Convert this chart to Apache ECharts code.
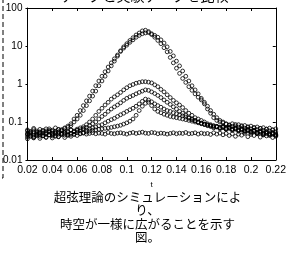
<!DOCTYPE html>
<html><head><meta charset="utf-8">
<script src="https://cdn.jsdelivr.net/npm/echarts@6/dist/echarts.min.js"></script>
<style>html,body{margin:0;padding:0;background:#fff}#c{width:289px;height:253px}</style>
</head><body><div id="c"></div>
<script>
const tValues = [0.02,0.0225,0.025,0.0275,0.03,0.0325,0.035,0.0375,0.04,0.0425,0.045,0.0475,0.05,0.0525,0.055,0.0575,0.06,0.0625,0.065,0.0675,0.07,0.0725,0.075,0.0775,0.08,0.0825,0.085,0.0875,0.09,0.0925,0.095,0.0975,0.1,0.1025,0.105,0.1075,0.11,0.1125,0.115,0.1175,0.12,0.1225,0.125,0.1275,0.13,0.1325,0.135,0.1375,0.14,0.1425,0.145,0.1475,0.15,0.1525,0.155,0.1575,0.16,0.1625,0.165,0.1675,0.17,0.1725,0.175,0.1775,0.18,0.1825,0.185,0.1875,0.19,0.1925,0.195,0.1975,0.2,0.2025,0.205,0.2075,0.21,0.2125,0.215,0.2175,0.22];

const peak1 = [0.062,0.055,0.068,0.058,0.064,0.052,0.066,0.06,0.057,0.07,0.063,0.059,0.067,0.072,
  0.08,0.1,0.12,0.15,0.2,0.27,0.36,0.48,0.65,0.9,1.2,1.6,2.2,3.0,4.0,5.4,7.5,9.5,11.5,14,16.5,19.5,22,25,26,24,20,17,14,11.5,9,7,5,3.6,2.6,1.9,1.4,1.1,0.85,0.68,0.55,0.45,0.38,0.3,0.22,0.17,0.13,0.11,0.1,0.095,
  0.088,0.082,0.09,0.079,0.085,0.076,0.081,0.072,0.078,0.07,0.074,0.068,0.071,0.065,0.069,0.062,0.066];
const peak2 = [0.048,0.056,0.045,0.052,0.05,0.058,0.047,0.054,0.061,0.049,0.055,0.063,0.07,
  0.078,0.09,0.12,0.15,0.2,0.27,0.36,0.48,0.65,0.9,1.2,1.6,2.1,2.8,3.6,4.6,5.8,7.2,8.8,10.5,12.5,14.5,17,19,21,22,22.5,21,19,17,14.5,12,9.5,7.2,5.5,4,3,2.2,1.6,1.2,0.9,0.7,0.55,0.42,0.33,0.26,0.2,0.16,0.13,0.11,0.1,0.09,
  0.084,0.077,0.086,0.073,0.08,0.069,0.075,0.066,0.072,0.063,0.068,0.06,0.065,0.058,0.062,0.055];
const seriesA = [0.045,0.052,0.041,0.049,0.055,0.044,0.05,0.057,0.046,0.053,0.048,0.059,0.051,0.056,0.062,0.058,0.065,0.07,0.075,0.085,0.1,
  0.12,0.15,0.19,0.23,0.28,0.33,0.4,0.46,0.52,0.6,0.7,0.8,0.9,0.97,1.05,1.1,1.15,1.15,1.12,1.07,0.95,0.85,0.72,0.62,0.52,0.44,0.37,0.32,0.28,0.24,0.2,0.17,0.15,0.13,0.12,0.11,0.1,0.09,0.085,0.08,
  0.076,0.072,0.078,0.068,0.074,0.065,0.07,0.062,0.067,0.059,0.064,0.056,0.061,0.053,0.058,0.05,0.055,0.048,0.052,0.046];
const seriesB = [0.04,0.047,0.038,0.044,0.042,0.05,0.039,0.046,0.043,0.051,0.041,0.048,0.045,0.053,0.047,0.055,0.06,0.063,0.068,0.072,0.08,0.09,
  0.1,0.12,0.14,0.16,0.19,0.22,0.25,0.28,0.32,0.37,0.42,0.46,0.5,0.55,0.6,0.65,0.7,0.68,0.62,0.56,0.5,0.44,0.38,0.33,0.29,0.25,0.22,0.19,0.17,0.15,0.13,0.12,0.11,0.1,0.092,0.086,0.08,
  0.076,0.07,0.074,0.066,0.071,0.063,0.068,0.06,0.065,0.057,0.062,0.054,0.059,0.051,0.056,0.049,0.053,0.046,0.05,0.044,0.048,0.042];
const seriesC = [0.058,0.05,0.063,0.054,0.047,0.06,0.052,0.066,0.049,0.057,0.064,0.051,0.059,0.048,0.062,0.055,0.06,0.058,0.064,0.061,0.067,0.07,0.074,0.08,
  0.085,0.095,0.105,0.115,0.125,0.14,0.155,0.17,0.19,0.21,0.23,0.26,0.3,0.35,0.4,0.38,0.34,0.3,0.27,0.245,0.22,0.2,0.19,0.175,0.165,0.155,0.145,0.135,0.125,0.115,0.108,0.1,0.094,0.088,0.083,
  0.079,0.074,0.077,0.071,0.075,0.068,0.072,0.065,0.069,0.062,0.066,0.059,0.063,0.057,0.06,0.054,0.058,0.052,0.056,0.05,0.053,0.048];
const seriesD = [0.036,0.042,0.039,0.045,0.037,0.043,0.04,0.046,0.038,0.044,0.041,0.047,0.039,0.045,0.042,0.048,0.044,0.05,0.052,0.055,0.058,0.06,0.062,0.064,0.066,0.068,0.07,0.072,
  0.075,0.078,0.082,0.088,0.095,0.105,0.12,0.15,0.2,0.26,0.31,0.33,0.27,0.22,0.19,0.175,0.16,0.15,0.14,0.135,0.13,0.125,0.12,0.115,0.11,0.105,0.1,0.095,0.09,0.087,0.084,0.081,0.078,
  0.075,0.07,0.073,0.066,0.07,0.063,0.067,0.06,0.064,0.057,0.061,0.054,0.058,0.051,0.055,0.049,0.052,0.046,0.05,0.044];
const seriesE = [0.05,0.043,0.055,0.047,0.052,0.044,0.058,0.046,0.051,0.042,0.054,0.048,0.053,0.045,0.05,0.047,0.052,0.049,0.051,0.048,
  0.05,0.052,0.049,0.051,0.05,0.048,0.053,0.05,0.049,0.051,0.052,0.05,0.048,0.051,0.053,0.05,0.052,0.054,0.051,0.05,
  0.053,0.052,0.049,0.051,0.05,0.048,0.05,0.052,0.049,0.051,0.05,0.053,0.049,0.05,0.052,0.048,0.051,0.049,0.05,0.047,
  0.052,0.048,0.051,0.046,0.05,0.044,0.049,0.042,0.048,0.045,0.05,0.041,0.047,0.044,0.049,0.04,0.046,0.043,0.048,0.039,0.045];

const xTickLabels = ['0.02','0.04','0.06','0.08','0.1','0.12','0.14','0.16','0.18','0.2','0.22'];
const yTickLabels = ['0.01','0.1','1','10','100'];
const xName = 't';
const titleText = 'データと実験データを比較';
const captionLines = ['超弦理論のシミュレーションによ','り、','時空が一様に広がることを示す','図。'];

const allSeries = [peak1, peak2, seriesA, seriesB, seriesC, seriesD, seriesE];

const chart = echarts.init(document.getElementById('c'), null, {renderer:'canvas'});
const labelFont = 'Liberation Sans';
const axisCommon = {
  axisLine:{show:true, onZero:false, lineStyle:{color:'#000', width:1}},
  splitLine:{show:false}
};
chart.setOption({
  animation:false,
  backgroundColor:'#fff',
  grid:{left:25, right:2, top:8, bottom:93, containLabel:false},
  xAxis:[
    Object.assign({type:'value', min:0.02, max:0.22, interval:0.02, position:'bottom',
      axisTick:{show:true, inside:true, length:3, lineStyle:{color:'#000'}},
      axisLabel:{fontSize:10.5, color:'#000', fontFamily:labelFont, margin:5, showMaxLabel:true, showMinLabel:true, hideOverlap:false,
        formatter:v=>xTickLabels[Math.round((v-0.02)/0.02)]},
      name:xName, nameLocation:'middle', nameGap:21, nameTextStyle:{fontSize:8, color:'#000', fontFamily:labelFont}
    }, axisCommon),
    Object.assign({type:'value', min:0.02, max:0.22, interval:0.02, position:'top',
      axisTick:{show:true, inside:true, length:3, lineStyle:{color:'#000'}},
      axisLabel:{show:false}}, axisCommon)
  ],
  yAxis:[
    Object.assign({type:'log', logBase:10, min:0.01, max:100, position:'left',
      axisTick:{show:true, inside:false, length:2, lineStyle:{color:'#000'}},
      axisLabel:{fontSize:10, color:'#000', fontFamily:labelFont, margin:5,
        formatter:v=>yTickLabels[Math.round(Math.log10(v))+2]}
    }, axisCommon),
    Object.assign({type:'log', logBase:10, min:0.01, max:100, position:'right',
      axisTick:{show:true, inside:true, length:3, lineStyle:{color:'#000'}},
      axisLabel:{show:false}}, axisCommon)
  ],
  series: allSeries.map(vals=>({
    type:'scatter', xAxisIndex:0, yAxisIndex:0, silent:true,
    symbol:'circle', symbolSize:3.8,
    itemStyle:{color:'rgba(0,0,0,0)', borderColor:'#000', borderWidth:1},
    data: vals.map((v,i)=>[tValues[i], v]).filter(p=>p[0]!==undefined)
  })),
  graphic:[
    {type:'text', left:'center', top:-11, style:{text:titleText, font:'14px "Noto Sans CJK JP"', fill:'#000'}},
    {type:'text', x:147.5, y:190, style:{text:captionLines.join('\n'), font:'12.5px "Noto Sans CJK JP"', fill:'#000', align:'center', verticalAlign:'top', lineHeight:13.5}},
    {type:'polyline', shape:{points:[[3,-2],[3,178],[-2,178]]}, style:{stroke:'#000', lineWidth:1, lineDash:[5,3], fill:null}}
  ]
});
</script></body></html>
